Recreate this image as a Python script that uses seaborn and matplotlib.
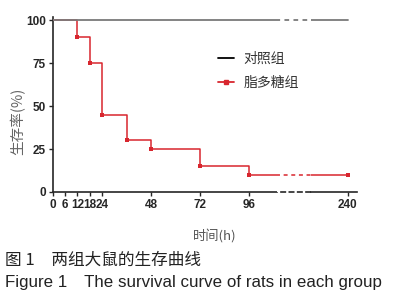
import numpy as np
import pandas as pd
import seaborn as sns
import matplotlib
matplotlib.use('Agg')
import matplotlib.pyplot as plt
from matplotlib.lines import Line2D

# data
hours = [0, 12, 18, 24, 36, 48, 72, 96, 240]
lps_surv = [100, 90, 75, 45, 30, 25, 15, 10, 10]
ctrl_hours = [0, 240]
ctrl_surv = [100, 100]
x_ticks_left = [0, 6, 12, 18, 24, 48, 72, 96]
x_ticks_right = [240]
y_ticks = [0, 25, 50, 75, 100]

lps_df = pd.DataFrame({'hours': hours, 'survival': lps_surv})
ctrl_df = pd.DataFrame({'hours': ctrl_hours, 'survival': ctrl_surv})
marker_df = lps_df.iloc[1:]

sns.set_style("ticks")
plt.rcParams['font.family'] = ['Liberation Sans', 'Noto Sans CJK SC', 'DejaVu Sans']
cjk = ['Noto Sans CJK SC', 'DejaVu Sans']

red = '#d8262e'
gray = '#7a7a7a'

fig = plt.figure(figsize=(3.96, 3.0), dpi=100)
bottom, height = 0.36, 0.583
ax1 = fig.add_axes([0.1338, bottom, 0.5657, height])
ax2 = fig.add_axes([0.6995, bottom, 0.0859, height])
ax3 = fig.add_axes([0.7854, bottom, 0.1162, height])

# short dashes across the axis break, starting with a gap
dash = (2.6, (2.6, 2.4))
for ax, ls in [(ax1, '-'), (ax2, dash), (ax3, '-')]:
    sns.lineplot(x='hours', y='survival', data=lps_df, ax=ax, color=red,
                 lw=1.1, linestyle=ls, drawstyle='steps-post', zorder=4)
    sns.lineplot(x='hours', y='survival', data=ctrl_df, ax=ax, color=gray,
                 lw=1.3, linestyle=ls, zorder=5)
    if ls == '-':
        sns.scatterplot(x='hours', y='survival', data=marker_df, ax=ax, color=red,
                        marker='s', s=9, linewidth=0, zorder=6)
    ax.set_ylim(0, 101.7)
    ax.set_xlabel('')
    ax.set_ylabel('')
    for s in ['top', 'right']:
        ax.spines[s].set_visible(False)
    ax.spines['bottom'].set_linewidth(1.2)
    ax.spines['left'].set_linewidth(1.2)
    ax.tick_params(width=1.0, length=3, labelsize=8.5, pad=2)

ax1.set_xlim(0, 109.7)
ax2.set_xlim(109.7, 222)
ax3.set_xlim(222, 244.6)

ax1.set_xticks(x_ticks_left)
ax1.set_xticklabels([str(v) for v in x_ticks_left], fontweight='bold')
ax1.set_yticks(y_ticks)
ax1.set_yticklabels([str(v) for v in y_ticks], fontweight='bold')

ax2.spines['left'].set_visible(False)
ax2.spines['bottom'].set_linestyle(dash)
ax2.set_xticks([])
ax2.set_yticks([])

ax3.spines['left'].set_visible(False)
ax3.set_yticks([])
ax3.set_xticks(x_ticks_right)
ax3.set_xticklabels([str(v) for v in x_ticks_right], fontweight='bold')

for ax in (ax1, ax2, ax3):
    if ax.get_legend() is not None:
        ax.get_legend().remove()

handles = [Line2D([], [], color='black', lw=1.3),
           Line2D([], [], color=red, lw=1.3, marker='s', markersize=2.5)]
fig.legend(handles, ['对照组', '脂多糖组'], loc='upper left',
           bbox_to_anchor=(0.52, 0.87), frameon=False, handlelength=1.1,
           handletextpad=0.7, labelspacing=0.75,
           prop={'family': cjk, 'size': 10}, labelcolor='#333333')

fig.text(0.046, 0.595, '生存率(%)', rotation=90, ha='center', va='center',
         family=cjk, fontsize=10.5, color='#666666')
fig.text(0.543, 0.21, '时间(h)', ha='center', va='center',
         family=cjk, fontsize=9.5, color='#555555')
fig.text(0.012, 0.133, '图 1　两组大鼠的生存曲线', ha='left', va='center',
         family=cjk, fontsize=12, color='#222222')
fig.text(0.012, 0.057, 'Figure 1　The survival curve of rats in each group', ha='left',
         va='center', family=['Liberation Sans', 'Noto Sans CJK SC'], fontsize=12.2,
         color='#222222')

plt.savefig('out.png', dpi=100)
plt.close()
